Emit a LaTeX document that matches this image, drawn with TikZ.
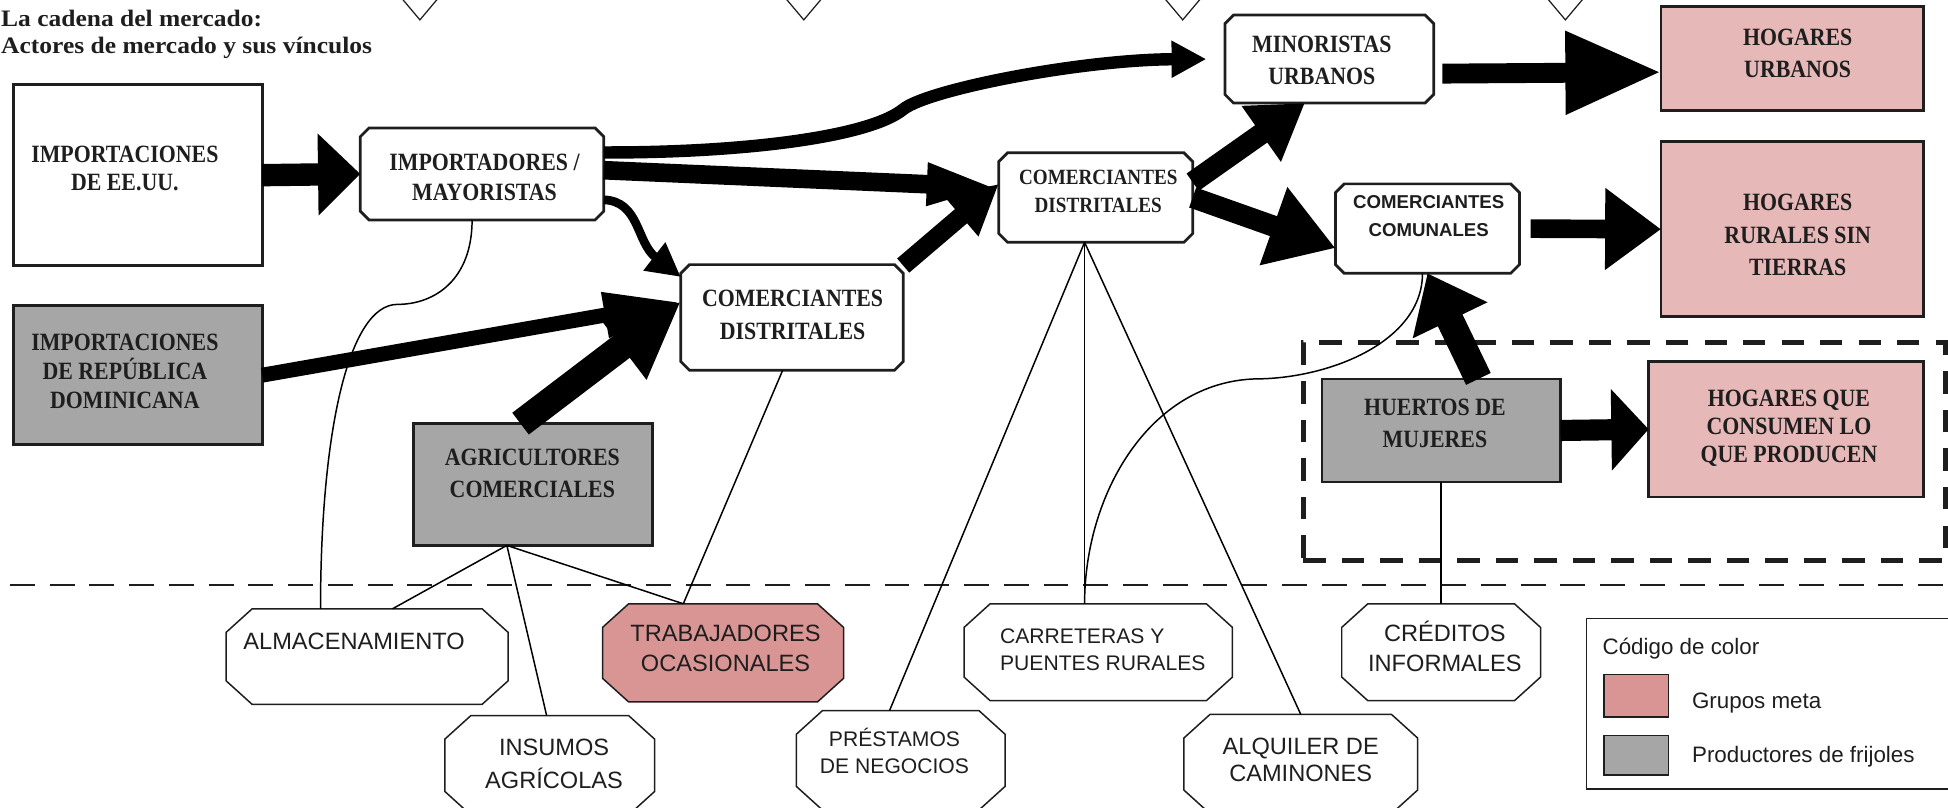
\documentclass[tikz,border=0pt]{standalone}
\usepackage{fontspec}
\usetikzlibrary{arrows.meta}
\setmainfont{Liberation Serif}
\newfontfamily\boxfont[FakeStretch=0.88]{Liberation Serif}
\newfontfamily\titlefont[FakeStretch=1.08]{Liberation Serif}
\newfontfamily\octfont{Liberation Sans}
\definecolor{meta}{HTML}{E6B8B7}
\definecolor{metadark}{HTML}{D99594}
\definecolor{prod}{HTML}{A6A6A6}
\definecolor{edge}{HTML}{1E1E1E}
% outline with cut corners round a named node
\newcommand\chamf[4]{%
  \draw[#4] ([xshift=#2]#1.north west) -- ([xshift=-#2]#1.north east)
    -- ([yshift=-#3]#1.north east) -- ([yshift=#3]#1.south east)
    -- ([xshift=-#2]#1.south east) -- ([xshift=#2]#1.south west)
    -- ([yshift=#3]#1.south west) -- ([yshift=-#3]#1.north west) -- cycle;}

\begin{document}
\begin{tikzpicture}[x=1pt,y=-1pt,
  every node/.style={inner sep=0pt,outer sep=0pt,text=edge},
  sqbox/.style={rectangle,draw=edge,line width=2.2pt},
  chline/.style={draw=edge,fill=white,line width=2.2pt},
  octline/.style={draw=edge,fill=#1,line width=1.2pt},
  octline/.default=white,
  boxtxt/.style={anchor=base,align=center,
    font=\boxfont\bfseries\fontsize{20}{#1}\selectfont},
  boxtxt/.default=25,
  octtxt/.style={anchor=base,align=center,
    font=\octfont\fontsize{19}{#1}\selectfont},
  octtxt/.default=25,
  legtxt/.style={anchor=base west,font=\octfont\fontsize{18}{22}\selectfont},
  link/.style={line width=1.2pt},
  flow/.style={line width=#1}]
  \useasboundingbox (0,0) rectangle (1568,650);

  % title and marks
  \node[anchor=base west,align=left,
    font=\titlefont\bfseries\fontsize{19}{21.5}\selectfont] (title) at (1,43)
    {La cadena del mercado:\\Actores de mercado y sus vínculos};
  \foreach \vx in {338,647,952,1260}
    \draw[line width=1pt,draw=edge] (\vx-16,-3) -- (\vx,16) -- (\vx+16,-3);

  % separators
  \node[draw=edge,line width=4pt,dash pattern=on 18pt off 13pt,
    minimum width=517pt,minimum height=175pt] (garden) at (1307.5,363.5) {};
  \draw[line width=1.8pt,draw=edge,dash pattern=on 20pt off 12pt] (8,471) -- (1568,471);

  % actors
  \node[sqbox,fill=white,minimum width=200pt,minimum height=146pt] (usimp) at (111,141) {};
  \node[sqbox,fill=prod,minimum width=200pt,minimum height=112pt] (drimp) at (111,302) {};
  \node[minimum width=196pt,minimum height=74pt] (mayor) at (388,140) {};
  \node[minimum width=179pt,minimum height=85pt] (distB) at (637.5,255.5) {};
  \node[minimum width=156pt,minimum height=72pt] (distA) at (882,159) {};
  \node[minimum width=168pt,minimum height=71pt] (minor) at (1070,47.5) {};
  \node[minimum width=148pt,minimum height=72pt] (comun) at (1149,184) {};
  \foreach \n in {mayor,distB,distA,minor,comun}
    \chamf{\n}{7pt}{7pt}{chline};
  \node[sqbox,fill=meta,minimum width=211pt,minimum height=84pt] (hurb) at (1442.5,47) {};
  \node[sqbox,fill=meta,minimum width=211pt,minimum height=141pt] (hrur) at (1442.5,184.5) {};
  \node[sqbox,fill=prod,minimum width=192pt,minimum height=83pt] (huert) at (1160,346.5) {};
  \node[sqbox,fill=meta,minimum width=221pt,minimum height=109pt] (hcons) at (1437.5,345.5) {};
  \node[sqbox,fill=prod,minimum width=192pt,minimum height=98pt] (agric) at (429,390) {};

  % services
  \node[minimum width=227pt,minimum height=77pt] (almac) at (295.5,528.5) {};
  \node[minimum width=169pt,minimum height=80pt] (insum) at (442.5,616) {};
  \node[minimum width=194pt,minimum height=79pt] (trab) at (582,525.5) {};
  \node[minimum width=168pt,minimum height=80pt] (prest) at (725,612) {};
  \node[minimum width=216pt,minimum height=78pt] (carr) at (884,525) {};
  \node[minimum width=188pt,minimum height=80pt] (alq) at (1047,615) {};
  \node[minimum width=160pt,minimum height=78pt] (cred) at (1160,525) {};
  \foreach \n in {almac,insum,prest,carr,alq,cred}
    \chamf{\n}{21pt}{19pt}{octline};
  \chamf{trab}{21pt}{19pt}{octline=metadark};

  % legend
  \node[draw=edge,line width=1.2pt,minimum width=300pt,minimum height=137pt] (legend) at (1427,566.5) {};
  \node[draw=edge,line width=1.2pt,fill=metadark,minimum width=52pt,minimum height=34pt] (swmeta) at (1317,560) {};
  \node[draw=edge,line width=1.2pt,fill=prod,minimum width=52pt,minimum height=32pt] (swprod) at (1317,608) {};
  \node[legtxt] (legtitle) at (1290,527) {Código de color};
  \node[legtxt] (legmeta) at (1362,570) {Grupos meta};
  \node[legtxt] (legprod) at (1362,614) {Productores de frijoles};

  % thin links
  \coordinate (bend1) at (320,245);
  \coordinate (bend2) at (1010,305);
  \draw[link] ([xshift=-8pt]mayor.south) .. controls +(0,48) and +(30,0) .. (bend1)
    .. controls +(-40,0) and +(0,-140) .. ([xshift=-37.5pt]almac.north);
  \draw[link] ([xshift=-21pt]agric.south) -- ([xshift=20.5pt]almac.north);
  \draw[link] ([xshift=-21pt]agric.south) -- ([xshift=-2.5pt]insum.north);
  \draw[link] ([xshift=-21pt]agric.south) -- ([xshift=-32pt]trab.north);
  \draw[link] ([xshift=-7.5pt]distB.south) -- ([xshift=-32pt]trab.north);
  \draw[link] ([xshift=-9pt]distA.south) -- ([xshift=-9pt]prest.north);
  \draw[link] ([xshift=-9pt]distA.south) -- ([xshift=-11pt]carr.north);
  \draw[link] ([xshift=-9pt]distA.south) -- (alq.north);
  \draw[link] ([xshift=-4pt]comun.south) .. controls +(0,55) and +(60,0) .. (bend2)
    .. controls +(-85,3) and +(0,-88) .. ([xshift=-11pt]carr.north);
  \draw[link] (huert.south) -- (cred.north);

  % flows
  \draw[flow=18pt,-{Triangle[length=34pt,width=64pt]}] (usimp.east) -- (mayor.west);
  \draw[flow=10pt,-{Triangle[length=28pt,width=28pt]},shorten >=15pt] (mayor.10)
    .. controls (600,123) and (700,110) .. (727,88)
    .. controls (747,72) and (870,48) .. (minor.west);
  \draw[flow=15pt,-{Triangle[length=58pt,width=30pt]}] ([yshift=3pt]mayor.east) -- (distA.174);
  \draw[flow=7pt,-{Triangle[length=27pt,width=27pt]}] (mayor.-12)
    .. controls (515,162) and (512,195) .. (distB.160);
  \draw[flow=12pt,-{Triangle[length=62pt,width=34pt]}] (drimp.east) -- (distB.172);
  \draw[flow=22pt,-{Triangle[length=60pt,width=62pt]}] ([xshift=-10pt]agric.north) -- (distB.172);
  \draw[flow=15pt,-{Triangle[length=40pt,width=40pt]}] (distB.25) -- (distA.172);
  \draw[flow=17pt,-{Triangle[length=43pt,width=52pt]}] (distA.9) -- (minor.241);
  \draw[flow=17pt,-{Triangle[length=53pt,width=63pt]}] (distA.east) -- (comun.192);
  \draw[flow=16pt,-{Triangle[length=77pt,width=63pt]},shorten <=7pt] (minor.-8) -- (hurb.186);
  \draw[flow=15pt,-{Triangle[length=45pt,width=63pt]},shorten <=9pt] (comun.east) -- (hrur.west);
  \draw[flow=22pt,-{Triangle[length=42pt,width=64pt]}] ([xshift=30pt]huert.north) -- (comun.south);
  \draw[flow=17pt,-{Triangle[length=30pt,width=64pt]}] (huert.east) -- (hcons.west);

  % labels (placed at the baseline of their last line)
  \node[boxtxt=22.3] (usimp-t) at (100.5,153) {IMPORTACIONES\\DE EE.UU.};
  \node[boxtxt=23.2] (drimp-t) at (100.5,328.6) {IMPORTACIONES\\DE REPÚBLICA\\DOMINICANA};
  \node[boxtxt=24] (mayor-t) at (390,161) {IMPORTADORES /\\MAYORISTAS};
  \node[boxtxt=26] (distB-t) at (638,273) {COMERCIANTES\\DISTRITALES};
  \node[boxtxt,font=\boxfont\bfseries\fontsize{17.5}{22.5}\selectfont]
    (distA-t) at (884,170.8) {COMERCIANTES\\DISTRITALES};
  \node[boxtxt=25.8] (minor-t) at (1064,68) {MINORISTAS\\URBANOS};
  \node[anchor=base,align=center,font=\octfont\bfseries\fontsize{15}{23}\selectfont]
    (comun-t) at (1150,190.5) {COMERCIANTES\\COMUNALES};
  \node[boxtxt=25.5] (hurb-t) at (1447,62) {HOGARES\\URBANOS};
  \node[boxtxt=25.8] (hrur-t) at (1447,221.4) {HOGARES\\RURALES SIN\\TIERRAS};
  \node[boxtxt=22.8] (hcons-t) at (1440,372.4) {HOGARES QUE\\CONSUMEN LO\\QUE PRODUCEN};
  \node[boxtxt=26.3] (huert-t) at (1155,360.4) {HUERTOS DE\\MUJERES};
  \node[boxtxt=26.3] (agric-t) at (428.5,400.6) {AGRICULTORES\\COMERCIALES};
  \node[octtxt] (almac-t) at (285,523) {ALMACENAMIENTO};
  \node[octtxt=26.8] (insum-t) at (446,634.6) {INSUMOS\\AGRÍCOLAS};
  \node[octtxt=24.7] (trab-t) at (584,540.7) {TRABAJADORES\\OCASIONALES};
  \node[anchor=base west,align=left,font=\octfont\fontsize{17}{22.3}\selectfont]
    (carr-t) at (805,540) {CARRETERAS Y\\PUENTES RURALES};
  \node[octtxt,font=\octfont\fontsize{17}{21.5}\selectfont]
    (prest-t) at (720,622.5) {PRÉSTAMOS\\DE NEGOCIOS};
  \node[octtxt=21.5] (alq-t) at (1047,629.2) {ALQUILER DE\\CAMINONES};
  \node[octtxt=24] (cred-t) at (1163,540.7) {CRÉDITOS\\INFORMALES};
\end{tikzpicture}
\end{document}
